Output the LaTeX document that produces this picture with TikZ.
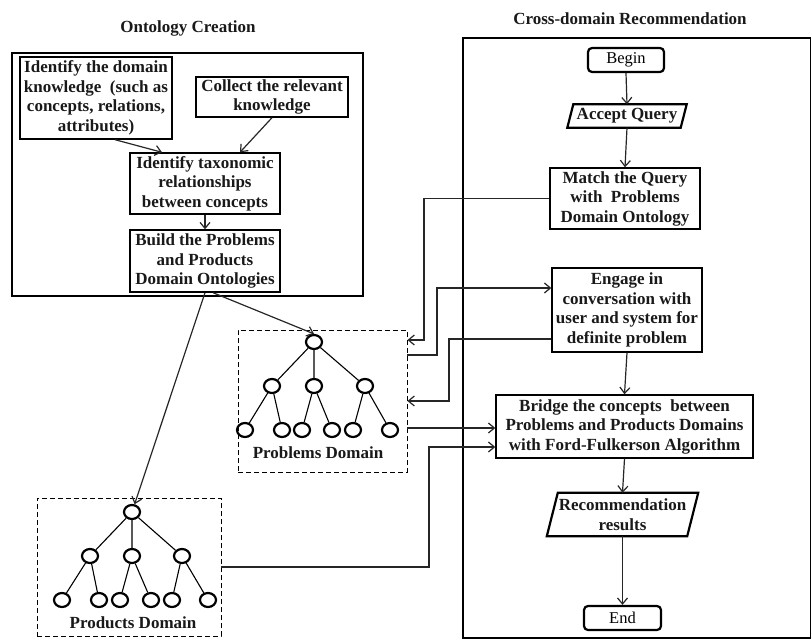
\documentclass[tikz,border=0pt]{standalone}
\usepackage{fontspec}
\setmainfont{Liberation Serif}
\usetikzlibrary{arrows.meta,shapes.geometric,calc}
\begin{document}
\begin{tikzpicture}[x=1pt,y=-1pt,
  txt/.style={font=\fontsize{17}{19.5}\selectfont\bfseries, text=black!90, align=center, inner sep=0pt},
  box/.style={txt, draw, line width=1.4pt},
  bigbox/.style={draw, line width=2.8pt, inner sep=0pt},
  conn/.style={line width=1.2pt, draw=black!85, -{Straight Barb[length=6pt,width=10pt]}},
  tn/.style={ellipse, draw, line width=2.2pt, minimum width=16pt, minimum height=14pt, inner sep=0pt},
  te/.style={line width=1.1pt},
  dbox/.style={draw, line width=0.9pt, dash pattern=on 5pt off 3pt, inner sep=0pt},
  term/.style={draw, rounded corners=4pt, line width=2.2pt, inner sep=0pt, font=\fontsize{16.5}{19}\selectfont},
  para/.style={line width=2.2pt},
]
\useasboundingbox (0,0) rectangle (811,639);

% big frames
\node[bigbox, minimum width=351pt, minimum height=243pt] (oc) at (187.5,174.5) {};
\node[bigbox, minimum width=348pt, minimum height=600pt] (rc) at (637,338) {};

% titles
\node[txt] (t1) at (188,28) {Ontology Creation};
\node[txt] (t2) at (630,19) {Cross-domain Recommendation};

% ontology creation boxes
\node[box, minimum width=152pt, minimum height=82pt] (b1) at (96,98) {Identify the domain\\knowledge\ \ (such as\\concepts, relations,\\attributes)};
\node[box, minimum width=152pt, minimum height=40pt] (b2) at (272,97) {Collect the relevant\\knowledge};
\node[box, minimum width=150pt, minimum height=61pt] (b3) at (205,183.5) {Identify taxonomic\\relationships\\between concepts};
\node[box, minimum width=150pt, minimum height=62pt] (b4) at (205,261) {Build the Problems\\and Products\\Domain Ontologies};

\draw[conn] ([xshift=19pt]b1.south) -- ([xshift=-43pt]b3.north);
\draw[conn] (b2.south) -- ([xshift=35pt]b3.north);
\draw[conn] (b3.south) -- (b4.north);

% problems domain
\node[dbox, minimum width=169pt, minimum height=142pt] (pbox) at (322.5,401) {};
\node[tn] (pr) at (314,342) {};
\node[tn] (p1) at (272,386) {};
\node[tn] (p2) at (314,386) {};
\node[tn] (p3) at (365,386) {};
\node[tn] (p11) at (245,430) {};
\node[tn] (p12) at (282,430) {};
\node[tn] (p21) at (302,430) {};
\node[tn] (p22) at (332,430) {};
\node[tn] (p31) at (353,430) {};
\node[tn] (p32) at (390,430) {};
\draw[te] (pr) -- (p1) (pr) -- (p2) (pr) -- (p3)
  (p1) -- (p11) (p1) -- (p12) (p2) -- (p21) (p2) -- (p22) (p3) -- (p31) (p3) -- (p32);
\node[txt] (plabel) at (318,453) {Problems Domain};

% products domain
\node[dbox, minimum width=184pt, minimum height=138pt] (qbox) at (129,567) {};
\node[tn] (qr) at (132,512) {};
\node[tn] (q1) at (90,556) {};
\node[tn] (q2) at (132,556) {};
\node[tn] (q3) at (182,556) {};
\node[tn] (q11) at (62,600) {};
\node[tn] (q12) at (99,600) {};
\node[tn] (q21) at (120,600) {};
\node[tn] (q22) at (151,600) {};
\node[tn] (q31) at (172,600) {};
\node[tn] (q32) at (208,600) {};
\draw[te] (qr) -- (q1) (qr) -- (q2) (qr) -- (q3)
  (q1) -- (q11) (q1) -- (q12) (q2) -- (q21) (q2) -- (q22) (q3) -- (q31) (q3) -- (q32);
\node[txt] (qlabel) at (133,623) {Products Domain};

\draw[conn] ([xshift=8pt]b4.south) -- (pr.north);
\draw[conn] (b4.south) -- (qr);

% recommendation flow
\node[term, minimum width=76pt, minimum height=24pt] (begin) at (626,60) {Begin};
\node[txt, minimum width=113pt, minimum height=23pt] (acc) at (627,116) {Accept Query};
\draw[para] ($(acc.south west)+(-3,0)$) -- ($(acc.north west)+(3,0)$) -- ($(acc.north east)+(3,0)$) -- ($(acc.south east)+(-3,0)$) -- cycle;
\node[box, minimum width=150pt, minimum height=61pt] (match) at (625,198.5) {Match the Query\\with\ \ Problems\\Domain Ontology};
\node[box, minimum width=150pt, minimum height=84pt] (engage) at (627,310) {Engage in\\conversation with\\user and system for\\definite problem};
\node[box, minimum width=257pt, minimum height=63pt] (bridge) at (624.5,426.5) {Bridge the concepts\ \ between\\Problems and Products Domains\\with Ford-Fulkerson Algorithm};
\node[txt, minimum width=140pt, minimum height=43pt] (rec) at (622.5,514.5) {Recommendation\\results};
\draw[para] ($(rec.south west)+(-5.5,0)$) -- ($(rec.north west)+(5.5,0)$) -- ($(rec.north east)+(5.5,0)$) -- ($(rec.south east)+(-5.5,0)$) -- cycle;
\node[term, minimum width=77pt, minimum height=24pt] (end) at (622.5,618) {End};

\draw[conn] (begin.south) -- (acc.north);
\draw[conn] (acc.south) -- (match.north);
\draw[conn] (engage.south) -- (bridge.north);
\draw[conn] (bridge.south) -- (rec.north);
\draw[conn] (rec.south) -- (end.north);

% cross connectors
\draw[conn] (match.west) -| (424,340) -- (pbox.east |- 0,340);
\draw[conn] (pbox.east |- 0,355) -| (437,288) -- (engage.west |- 0,288);
\draw[conn] (engage.west |- 0,339) -| (449,401) -- (pbox.east |- 0,401);
\draw[conn] (pbox.east |- 0,428) -- (bridge.west |- 0,428);
\draw[conn] (qbox.east |- 0,567) -| (429,447) -- (bridge.west |- 0,447);
\end{tikzpicture}
\end{document}
